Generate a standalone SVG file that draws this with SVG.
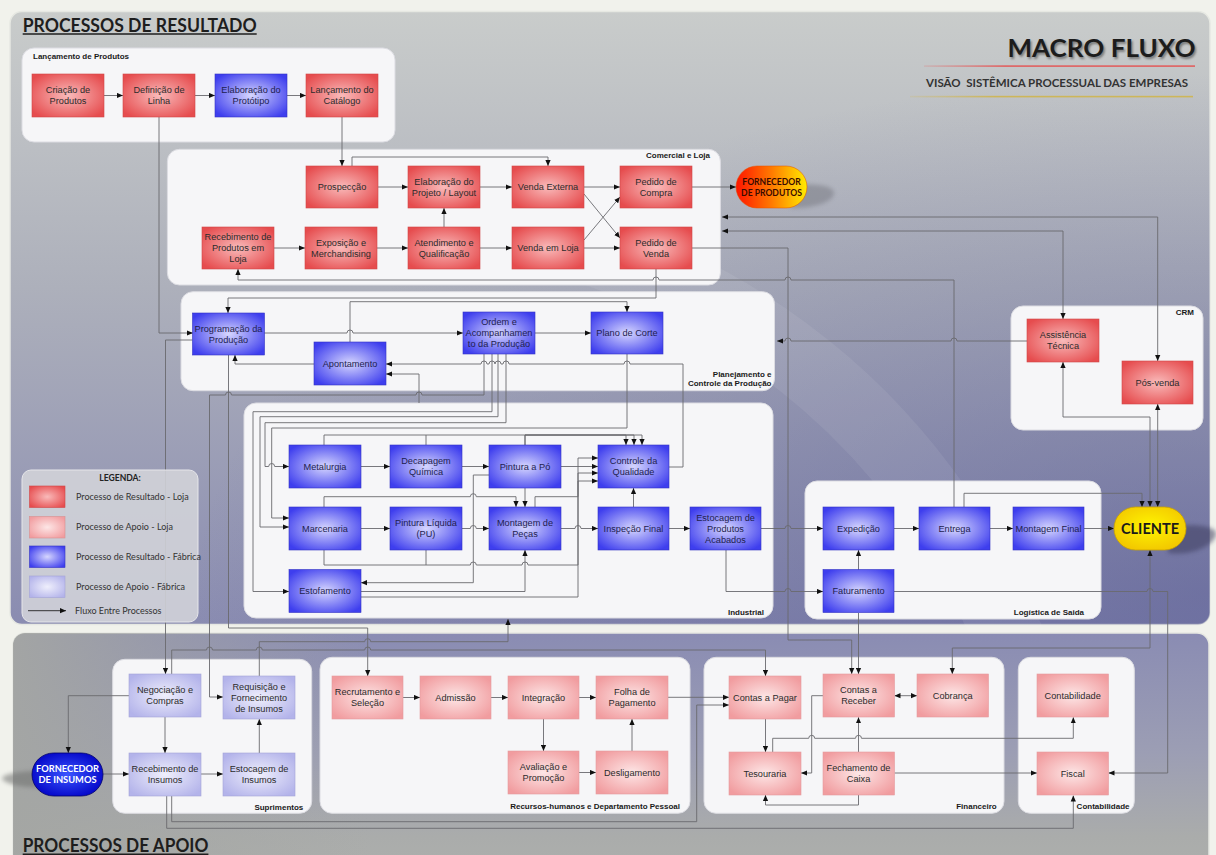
<svg xmlns="http://www.w3.org/2000/svg" width="1216" height="855" viewBox="0 0 1216 855">
<defs>
  <linearGradient id="bgTop" x1="0" y1="0" x2="0" y2="1">
    <stop offset="0" stop-color="#c9cccb"/>
    <stop offset="0.45" stop-color="#adb0bb"/>
    <stop offset="1" stop-color="#8a8cb1"/>
  </linearGradient>
  <radialGradient id="bgTopShade" cx="1" cy="0.95" r="0.85">
    <stop offset="0" stop-color="#4a4d8c" stop-opacity="0.45"/>
    <stop offset="1" stop-color="#4a4d8c" stop-opacity="0"/>
  </radialGradient>
  <linearGradient id="bgBot" x1="0" y1="0" x2="0" y2="1">
    <stop offset="0" stop-color="#8a8cb3"/>
    <stop offset="0.5" stop-color="#9c9eb4"/>
    <stop offset="0.85" stop-color="#aaacab"/>
    <stop offset="1" stop-color="#adafac"/>
  </linearGradient>
  <linearGradient id="bgBotLeft" x1="0" y1="0" x2="1" y2="0">
    <stop offset="0" stop-color="#a4a6a3" stop-opacity="0.95"/>
    <stop offset="0.1" stop-color="#a4a6a3" stop-opacity="0.6"/>
    <stop offset="0.3" stop-color="#a4a6a3" stop-opacity="0"/>
  </linearGradient>
  <radialGradient id="gR" cx="0.5" cy="0.5" r="0.62">
    <stop offset="0" stop-color="#f9baba"/>
    <stop offset="1" stop-color="#e64c4e"/>
  </radialGradient>
  <radialGradient id="gLR" cx="0.5" cy="0.5" r="0.62">
    <stop offset="0" stop-color="#fde6e6"/>
    <stop offset="1" stop-color="#f19c9f"/>
  </radialGradient>
  <radialGradient id="gB" cx="0.5" cy="0.5" r="0.62">
    <stop offset="0" stop-color="#d6d6fe"/>
    <stop offset="1" stop-color="#3e3eee"/>
  </radialGradient>
  <radialGradient id="gLB" cx="0.5" cy="0.5" r="0.62">
    <stop offset="0" stop-color="#efeffc"/>
    <stop offset="1" stop-color="#b3b3ea"/>
  </radialGradient>
  <linearGradient id="gFornProd" x1="0" y1="0" x2="1" y2="0">
    <stop offset="0" stop-color="#ff1500"/>
    <stop offset="0.5" stop-color="#ff7a00"/>
    <stop offset="1" stop-color="#ffec00"/>
  </linearGradient>
  <radialGradient id="gCliente" cx="0.5" cy="0.45" r="0.6">
    <stop offset="0" stop-color="#fff500"/>
    <stop offset="1" stop-color="#f2c600"/>
  </radialGradient>
  <radialGradient id="gFornIns" cx="0.5" cy="0.5" r="0.6">
    <stop offset="0" stop-color="#3a55ff"/>
    <stop offset="1" stop-color="#0000c4"/>
  </radialGradient>
  <linearGradient id="redRule" x1="0" y1="0" x2="1" y2="0">
    <stop offset="0" stop-color="#e06a6a" stop-opacity="0.2"/>
    <stop offset="0.3" stop-color="#e06060"/>
    <stop offset="1" stop-color="#e06060"/>
  </linearGradient>
  <linearGradient id="yelRule" x1="0" y1="0" x2="1" y2="0">
    <stop offset="0" stop-color="#d0b858" stop-opacity="0.2"/>
    <stop offset="0.3" stop-color="#cdb65a"/>
    <stop offset="1" stop-color="#cdb65a"/>
  </linearGradient>
  <filter id="soft" x="-10%" y="-30%" width="120%" height="160%">
    <feGaussianBlur stdDeviation="1"/>
  </filter>
  <filter id="shadowBlur" x="-30%" y="-50%" width="160%" height="200%">
    <feGaussianBlur stdDeviation="2"/>
  </filter>
  <marker id="ah" viewBox="0 0 6 6" refX="6" refY="3" markerWidth="6" markerHeight="6" markerUnits="userSpaceOnUse" orient="auto-start-reverse">
    <path d="M0,0.4 L6,3 L0,5.6 z" fill="#111"/>
  </marker>
  <style>
    .grp { fill:#f6f6f8; stroke:#dcdce2; stroke-width:1; }
    .gl { font-family:"Liberation Sans", Arial, sans-serif; font-size:8px; font-weight:bold; fill:#1a1a1a; text-anchor:end; }
    .nd text { font-family:"Liberation Sans", Arial, sans-serif; font-size:9.2px; text-anchor:middle; fill:#2b2b2b; }
    .r rect { fill:url(#gR); stroke:#cf4848; stroke-width:0.6; }
    .lr rect { fill:url(#gLR); stroke:#e49c9e; stroke-width:0.6; }
    .b rect { fill:url(#gB); stroke:#3434c4; stroke-width:0.6; }
    .b text { fill:#1e1e4e; }
    .lb rect { fill:url(#gLB); stroke:#a4a4d8; stroke-width:0.6; }
    .cn path { fill:none; stroke:#6a6a6e; stroke-width:0.9; }
    .cn .a { marker-end:url(#ah); }
    .cn .d { marker-start:url(#ah); marker-end:url(#ah); }
    .cal { font-family:Lato, "Open Sans", sans-serif; }
    .lg { font-family:Lato, "Open Sans", sans-serif; font-size:9px; fill:#333; }
  </style>
</defs>

<!-- page -->
<rect x="0" y="0" width="1216" height="855" fill="#f1f2ec"/>

<!-- upper panel: result processes -->
<g id="panel-resultado">
  <rect x="10" y="11.5" width="1200" height="613" rx="12" fill="url(#bgTop)" stroke="#e6e8e2" stroke-width="1.5"/>
  <rect x="10" y="11.5" width="1200" height="613" rx="12" fill="url(#bgTopShade)"/>
  <path d="M560,240 C760,300 920,430 1010,640" fill="none" stroke="#ffffff" stroke-opacity="0.07" stroke-width="70"/>
  <text x="22.7" y="31.5" class="cal" font-size="19" font-weight="bold" fill="#1e1e1e" textLength="234" lengthAdjust="spacingAndGlyphs">PROCESSOS DE RESULTADO</text>
  <line x1="22.7" y1="34" x2="256.7" y2="34" stroke="#1e1e1e" stroke-width="1.4"/>
  <text x="1009" y="58.5" class="cal" font-size="24.5" font-weight="bold" fill="#555" opacity="0.7" filter="url(#soft)" textLength="188" lengthAdjust="spacingAndGlyphs">MACRO FLUXO</text>
  <text x="1007.5" y="56.7" class="cal" font-size="24.5" font-weight="bold" fill="#1c1c1c" textLength="188" lengthAdjust="spacingAndGlyphs">MACRO FLUXO</text>
  <rect x="924" y="65.3" width="271" height="1.6" fill="url(#redRule)"/>
  <text x="926" y="87.3" class="cal" font-size="10.5" font-weight="bold" fill="#333" style="white-space:pre" textLength="262" lengthAdjust="spacingAndGlyphs">VISÃO  SISTÊMICA PROCESSUAL DAS EMPRESAS</text>
  <rect x="910" y="95.8" width="283" height="1.6" fill="url(#yelRule)"/>
</g>

<!-- lower panel: support processes -->
<g id="panel-apoio">
  <rect x="13" y="633" width="1196" height="240" rx="12" fill="url(#bgBot)" stroke="#e6e8e2" stroke-width="1.5"/>
  <rect x="13" y="633" width="1196" height="240" rx="12" fill="url(#bgBotLeft)"/>
  <text x="22.7" y="851.7" class="cal" font-size="19" font-weight="bold" fill="#1e1e1e" textLength="185.7" lengthAdjust="spacingAndGlyphs">PROCESSOS DE APOIO</text>
  <line x1="22.7" y1="854.3" x2="208.4" y2="854.3" stroke="#1e1e1e" stroke-width="1.4"/>
</g>

<!-- process areas -->
<g id="areas">
  <rect class="grp" x="22" y="48" width="373" height="94" rx="12"/>
  <text class="gl" x="33" y="58.5" style="text-anchor:start">Lançamento de Produtos</text>
  <rect class="grp" x="167.4" y="149.3" width="553" height="135.7" rx="12"/>
  <text class="gl" x="710" y="157.5">Comercial e Loja</text>
  <rect class="grp" x="181" y="291.7" width="593.5" height="99" rx="12"/>
  <text class="gl" x="771.5" y="376.7">Planejamento e</text>
  <text class="gl" x="771.5" y="386.2">Controle da Produção</text>
  <rect class="grp" x="244" y="403" width="529" height="215" rx="12"/>
  <text class="gl" x="764" y="615">Industrial</text>
  <rect class="grp" x="1011" y="306" width="192" height="124" rx="12"/>
  <text class="gl" x="1194" y="314.5">CRM</text>
  <rect class="grp" x="805" y="481" width="296" height="138" rx="12"/>
  <text class="gl" x="1084" y="615">Logística de Saida</text>
  <rect class="grp" x="112.7" y="659.3" width="199" height="154" rx="12"/>
  <text class="gl" x="303.3" y="810">Suprimentos</text>
  <rect class="grp" x="320" y="657.3" width="370" height="156" rx="12"/>
  <text class="gl" x="680" y="809.3">Recursos-humanos e Departamento Pessoal</text>
  <rect class="grp" x="704" y="657.3" width="300" height="156" rx="12"/>
  <text class="gl" x="996.7" y="809.3">Financeiro</text>
  <rect class="grp" x="1018.3" y="657.3" width="116" height="156" rx="12"/>
  <text class="gl" x="1129.5" y="809.3">Contabilidade</text>
</g>

<!-- connectors -->
<g id="connectors" class="cn">
  <!-- product launch -->
  <path class="a" d="M104,95.5 H123"/>
  <path class="a" d="M195,95.5 H215"/>
  <path class="a" d="M287,95.5 H306"/>
  <path class="a" d="M159,117 V333 H193"/>
  <path class="a" d="M342,117 V166"/>
  <!-- commercial and store -->
  <path class="a" d="M378,187 H408"/>
  <path class="a" d="M480,187 H512"/>
  <path class="a" d="M584,187 H620"/>
  <path class="a" d="M352,166 V157 H548 V166"/>
  <path class="a" d="M444,227 V208"/>
  <path class="a" d="M274,248 H305"/>
  <path class="a" d="M377,248 H408"/>
  <path class="a" d="M480,248 H512"/>
  <path class="a" d="M584,248 H620"/>
  <path class="a" d="M584,194 L620,238"/>
  <path class="a" d="M584,240 L620,197"/>
  <path class="a" d="M692,187 H736"/>
  <path class="a" d="M692,248 H788 V640 H851.7 V674"/>
  <path class="a" d="M954,507 V280 H791 a3,3 0 0 0 -6,0 H659 a3,3 0 0 0 -6,0 H238 V269"/>
  <path class="a" d="M656,269 V298 H228 V313"/>
  <!-- production planning -->
  <path class="a" d="M350,342 V301.7 H627 V312"/>
  <path class="a" d="M264,333 H347 a3,3 0 0 1 6,0 H463"/>
  <path class="a" d="M535,333 H591"/>
  <path class="a" d="M314,364 H235 V355"/>
  <path class="a" d="M669,467 H683 V364 H630 a3,3 0 0 0 -6,0 H509 a3,3 0 0 0 -6,0 H501 a3,3 0 0 0 -6,0 a3,3 0 0 0 -6,0 H487 a3,3 0 0 0 -6,0 H386"/>
  <path class="a" d="M419,403 V374 H386"/>
  <path class="a" d="M484,354 V395 H422 a3,3 0 0 0 -6,0 H231.5 a3,3 0 0 0 -6,0 H209.5 V697 H223"/>
  <path class="a" d="M192.5,340 H165.5 V674"/>
  <path class="a" d="M228.5,355 V628 H367.7 V676"/>
  <!-- industrial -->
  <path class="a" d="M492,354 V411.7 H253 V591.5 H289"/>
  <path class="a" d="M498,354 V416.7 H260 V527 H289"/>
  <path class="a" d="M506,354 V422.7 H265 V466.5 H268.7 a3,3 0 0 1 6,0 H289"/>
  <path class="a" d="M627,354 V428 H271.7 V518 H289"/>
  <path class="a" d="M361,466.5 H390"/>
  <path class="a" d="M462,466.5 H489"/>
  <path class="a" d="M561,466.5 H598"/>
  <path class="a" d="M324,445 V435 H626 V445"/>
  <path d="M426,445 V435"/>
  <path class="a" d="M525,445 V435 H634 V445"/>
  <path class="a" d="M525,445 V435 H642 V445"/>
  <path class="a" d="M525,488 V507"/>
  <path class="a" d="M324,507 V496.7 H470.3 a3,3 0 0 1 6,0 H516 V507"/>
  <path class="a" d="M361,528.5 H390"/>
  <path class="a" d="M462,528.5 H470.3 a3,3 0 0 1 6,0 H489"/>
  <path class="a" d="M489,475 H473.3 V582.7 H361"/>
  <path class="a" d="M324,550 V565 H470.3 a3,3 0 0 1 6,0 H522 a3,3 0 0 1 6,0 H578 V473 H598"/>
  <path d="M426,550 V565"/>
  <path class="a" d="M361,591.5 H525 V550"/>
  <path class="a" d="M361,597 H578 V481 H598"/>
  <path class="a" d="M535,507 V496.7 H578 V458 H598"/>
  <path class="a" d="M561,528.5 H575 a3,3 0 0 1 6,0 H598"/>
  <path class="a" d="M633.5,507 V488"/>
  <path class="a" d="M669,528.5 H690"/>
  <path class="a" d="M761,528.5 H785 a3,3 0 0 1 6,0 H823"/>
  <path class="a" d="M726,550 V591.5 H785 a3,3 0 0 1 6,0 H823"/>
  <!-- outbound logistics and CRM -->
  <path class="a" d="M894,528.5 H919"/>
  <path class="a" d="M990,528.5 H1013"/>
  <path class="a" d="M1084,528.5 H1114"/>
  <path class="a" d="M858.5,570 V550"/>
  <path class="a" d="M964,507 V493.3 H1142 V507"/>
  <path class="d" d="M1063,362 V417 H1150 V507"/>
  <path class="d" d="M1157.7,404 V507"/>
  <path class="a" d="M894,591.5 H1147 a3,3 0 0 1 6,0 H1167.7 V773 H1108.5"/>
  <path class="d" d="M952.3,674 V648 H1150 V550"/>
  <path class="a" d="M1027,341 H957 a3,3 0 0 0 -6,0 H791 a3,3 0 0 0 -6,0 H777"/>
  <path class="d" d="M722,217 H1157.7 V361"/>
  <path class="d" d="M722,231 H1063 V319"/>
  <!-- finance and accounting -->
  <path class="a" d="M858.5,613 V674"/>
  <path class="d" d="M894.5,695.7 H917"/>
  <path class="a" d="M765.5,719 V752"/>
  <path class="a" d="M823,695.7 H811.7 V773 H801"/>
  <path class="a" d="M772.7,752 V738.3 H808.7 a3,3 0 0 1 6,0 H855.5 a3,3 0 0 1 6,0 H1073.3 V717.3"/>
  <path class="a" d="M858.5,752 V717.3"/>
  <path class="a" d="M858.5,795 V805 H765.5 V795"/>
  <path class="a" d="M894.5,773 H1037"/>
  <path class="a" d="M166.7,796 V828.3 H1073.3 V795.5"/>
  <path class="a" d="M171.7,796 V821.7 H696.7 V705 H729"/>
  <path class="a" d="M667.7,697.3 H729"/>
  <!-- supplies -->
  <path class="a" d="M171.7,674 V650 H206.5 a3,3 0 0 1 6,0 H256.3 a3,3 0 0 1 6,0 H364.7 a3,3 0 0 1 6,0 H765.5 V676"/>
  <path class="a" d="M129,695.7 H68.3 V753"/>
  <path class="a" d="M165,717 V753"/>
  <path class="a" d="M103,774 H129"/>
  <path class="a" d="M201,774 H223"/>
  <path class="a" d="M259.3,753 V719"/>
  <path class="a" d="M259.3,676 V641.7 H364.7 a3,3 0 0 1 6,0 H508 V619"/>
  <!-- human resources -->
  <path class="a" d="M403,697.5 H420"/>
  <path class="a" d="M491,697.5 H508"/>
  <path class="a" d="M579,697.5 H596"/>
  <path class="a" d="M543.5,719 V751"/>
  <path class="a" d="M579,772.5 H596"/>
  <path class="a" d="M632,751 V719"/>
</g>

<!-- shadows under terminal shapes -->
<g id="shadows">
  <path d="M790,186 C815,182 836,186 834,194 C832,203 810,209 790,208 Z" fill="#6e7078" opacity="0.45" filter="url(#shadowBlur)"/>
  <path d="M1170,527 C1195,523 1218,526 1216,535 C1213,546 1192,556 1168,553 Z" fill="#3c3e5e" opacity="0.55" filter="url(#shadowBlur)"/>
  <path d="M50,771 C30,770 4,773 2,778 C2,784 28,789 50,787 Z" fill="#6e706e" opacity="0.55" filter="url(#shadowBlur)"/>
</g>

<!-- nodes: Lançamento de Produtos -->
<g id="n-criacao" class="nd r"><rect x="32" y="74" width="72" height="43"/><text><tspan x="68" y="93.3">Criação de</tspan><tspan x="68" y="104.3">Produtos</tspan></text></g>
<g id="n-definicao" class="nd r"><rect x="123" y="74" width="72" height="43"/><text><tspan x="159" y="93.3">Definição de</tspan><tspan x="159" y="104.3">Linha</tspan></text></g>
<g id="n-prototipo" class="nd b"><rect x="215" y="74" width="72" height="43"/><text><tspan x="251" y="93.3">Elaboração do</tspan><tspan x="251" y="104.3">Protótipo</tspan></text></g>
<g id="n-catalogo" class="nd r"><rect x="306" y="74" width="72" height="43"/><text><tspan x="342" y="93.3">Lançamento do</tspan><tspan x="342" y="104.3">Catálogo</tspan></text></g>

<!-- nodes: Comercial e Loja -->
<g id="n-prospeccao" class="nd r"><rect x="306" y="166" width="72" height="42"/><text x="342" y="190.3">Prospecção</text></g>
<g id="n-projeto" class="nd r"><rect x="408" y="166" width="72" height="42"/><text><tspan x="444" y="184.8">Elaboração do</tspan><tspan x="444" y="195.8">Projeto / Layout</tspan></text></g>
<g id="n-venda-externa" class="nd r"><rect x="512" y="166" width="72" height="42"/><text x="548" y="190.3">Venda Externa</text></g>
<g id="n-pedido-compra" class="nd r"><rect x="620" y="166" width="72" height="42"/><text><tspan x="656" y="184.8">Pedido de</tspan><tspan x="656" y="195.8">Compra</tspan></text></g>
<g id="n-receb-loja" class="nd r"><rect x="202" y="227" width="72" height="42"/><text><tspan x="238" y="240.3">Recebimento de</tspan><tspan x="238" y="251.3">Produtos em</tspan><tspan x="238" y="262.3">Loja</tspan></text></g>
<g id="n-exposicao" class="nd r"><rect x="305" y="227" width="72" height="42"/><text><tspan x="341" y="245.8">Exposição e</tspan><tspan x="341" y="256.8">Merchandising</tspan></text></g>
<g id="n-atendimento" class="nd r"><rect x="408" y="227" width="72" height="42"/><text><tspan x="444" y="245.8">Atendimento e</tspan><tspan x="444" y="256.8">Qualificação</tspan></text></g>
<g id="n-venda-loja" class="nd r"><rect x="512" y="227" width="72" height="42"/><text x="548" y="251.3">Venda em Loja</text></g>
<g id="n-pedido-venda" class="nd r"><rect x="620" y="227" width="72" height="42"/><text><tspan x="656" y="245.8">Pedido de</tspan><tspan x="656" y="256.8">Venda</tspan></text></g>
<g id="n-fornecedor-produtos">
  <rect x="736" y="166" width="71" height="42" rx="21" fill="url(#gFornProd)" stroke="#e05000" stroke-width="0.5"/>
  <text class="cal" font-size="8.6" font-weight="bold" fill="#3a0a00" text-anchor="middle"><tspan x="771.5" y="184.5">FORNECEDOR</tspan><tspan x="771.5" y="195.7">DE PRODUTOS</tspan></text>
</g>

<!-- nodes: Planejamento e Controle da Produção -->
<g id="n-programacao" class="nd b"><rect x="192.5" y="313" width="72" height="42"/><text><tspan x="228.5" y="331.8">Programação da</tspan><tspan x="228.5" y="342.8">Produção</tspan></text></g>
<g id="n-apontamento" class="nd b"><rect x="314" y="342" width="72" height="43"/><text x="350" y="366.8">Apontamento</text></g>
<g id="n-ordem" class="nd b"><rect x="463" y="312" width="72" height="42"/><text><tspan x="499" y="325.3">Ordem e</tspan><tspan x="499" y="336.3">Acompanhamen</tspan><tspan x="499" y="347.3">to da Produção</tspan></text></g>
<g id="n-plano-corte" class="nd b"><rect x="591" y="312" width="72" height="42"/><text x="627" y="336.3">Plano de Corte</text></g>

<!-- nodes: Industrial -->
<g id="n-metalurgia" class="nd b"><rect x="289" y="445" width="72" height="43"/><text x="325" y="469.8">Metalurgia</text></g>
<g id="n-decapagem" class="nd b"><rect x="390" y="445" width="72" height="43"/><text><tspan x="426" y="464.3">Decapagem</tspan><tspan x="426" y="475.3">Química</tspan></text></g>
<g id="n-pintura-po" class="nd b"><rect x="489" y="445" width="72" height="43"/><text x="525" y="469.8">Pintura a Pó</text></g>
<g id="n-controle" class="nd b"><rect x="598" y="445" width="71" height="43"/><text><tspan x="633.5" y="464.3">Controle da</tspan><tspan x="633.5" y="475.3">Qualidade</tspan></text></g>
<g id="n-marcenaria" class="nd b"><rect x="289" y="507" width="72" height="43"/><text x="325" y="531.8">Marcenaria</text></g>
<g id="n-pintura-liquida" class="nd b"><rect x="390" y="507" width="72" height="43"/><text><tspan x="426" y="526.3">Pintura Líquida</tspan><tspan x="426" y="537.3">(PU)</tspan></text></g>
<g id="n-montagem-pecas" class="nd b"><rect x="489" y="507" width="72" height="43"/><text><tspan x="525" y="526.3">Montagem de</tspan><tspan x="525" y="537.3">Peças</tspan></text></g>
<g id="n-inspecao" class="nd b"><rect x="598" y="507" width="71" height="43"/><text x="633.5" y="531.8">Inspeção Final</text></g>
<g id="n-estoque-acabados" class="nd b"><rect x="690" y="507" width="71" height="43"/><text><tspan x="725.5" y="520.8">Estocagem de</tspan><tspan x="725.5" y="531.8">Produtos</tspan><tspan x="725.5" y="542.8">Acabados</tspan></text></g>
<g id="n-estofamento" class="nd b"><rect x="289" y="569.5" width="72" height="43"/><text x="325" y="594.3">Estofamento</text></g>

<!-- nodes: Logística de Saída -->
<g id="n-expedicao" class="nd b"><rect x="823" y="507" width="71" height="43"/><text x="858.5" y="531.8">Expedição</text></g>
<g id="n-entrega" class="nd b"><rect x="919" y="507" width="71" height="43"/><text x="954.5" y="531.8">Entrega</text></g>
<g id="n-montagem-final" class="nd b"><rect x="1013" y="507" width="71" height="43"/><text x="1048.5" y="531.8">Montagem Final</text></g>
<g id="n-faturamento" class="nd b"><rect x="823" y="569.5" width="71" height="43"/><text x="858.5" y="594.3">Faturamento</text></g>
<g id="n-cliente">
  <rect x="1114" y="507" width="72" height="43" rx="21.5" fill="url(#gCliente)" stroke="#c9a200" stroke-width="0.8"/>
  <text x="1150" y="533.5" class="cal" font-size="14.5" font-weight="bold" fill="#1a1a1a" text-anchor="middle">CLIENTE</text>
</g>

<!-- nodes: CRM -->
<g id="n-assistencia" class="nd r"><rect x="1027" y="319" width="72" height="43"/><text><tspan x="1063" y="338.3">Assistência</tspan><tspan x="1063" y="349.3">Técnica</tspan></text></g>
<g id="n-pos-venda" class="nd r"><rect x="1122" y="361" width="71" height="43"/><text x="1157.5" y="385.8">Pós-venda</text></g>

<!-- nodes: Suprimentos -->
<g id="n-negociacao" class="nd lb"><rect x="129" y="674" width="72" height="43"/><text><tspan x="165" y="693.3">Negociação e</tspan><tspan x="165" y="704.3">Compras</tspan></text></g>
<g id="n-requisicao" class="nd lb"><rect x="223" y="676" width="72" height="43"/><text><tspan x="259" y="689.8">Requisição e</tspan><tspan x="259" y="700.8">Fornecimento</tspan><tspan x="259" y="711.8">de Insumos</tspan></text></g>
<g id="n-receb-insumos" class="nd lb"><rect x="129" y="753" width="72" height="43"/><text><tspan x="165" y="772.3">Recebimento de</tspan><tspan x="165" y="783.3">Insumos</tspan></text></g>
<g id="n-estoque-insumos" class="nd lb"><rect x="223" y="753" width="72" height="43"/><text><tspan x="259" y="772.3">Estocagem de</tspan><tspan x="259" y="783.3">Insumos</tspan></text></g>
<g id="n-fornecedor-insumos">
  <rect x="32" y="753" width="71" height="43" rx="21.5" fill="url(#gFornIns)" stroke="#00006a" stroke-width="0.8"/>
  <text class="cal" font-size="9.3" font-weight="bold" fill="#ffffff" text-anchor="middle"><tspan x="67.5" y="771.7">FORNECEDOR</tspan><tspan x="67.5" y="782.7">DE INSUMOS</tspan></text>
</g>

<!-- nodes: Recursos-humanos e Departamento Pessoal -->
<g id="n-recrutamento" class="nd lr"><rect x="332" y="676" width="71" height="43"/><text><tspan x="367.5" y="695.3">Recrutamento e</tspan><tspan x="367.5" y="706.3">Seleção</tspan></text></g>
<g id="n-admissao" class="nd lr"><rect x="420" y="676" width="71" height="43"/><text x="455.5" y="700.8">Admissão</text></g>
<g id="n-integracao" class="nd lr"><rect x="508" y="676" width="71" height="43"/><text x="543.5" y="700.8">Integração</text></g>
<g id="n-folha" class="nd lr"><rect x="596" y="676" width="72" height="43"/><text><tspan x="632" y="695.3">Folha de</tspan><tspan x="632" y="706.3">Pagamento</tspan></text></g>
<g id="n-avaliacao" class="nd lr"><rect x="508" y="751" width="71" height="43"/><text><tspan x="543.5" y="770.3">Avaliação e</tspan><tspan x="543.5" y="781.3">Promoção</tspan></text></g>
<g id="n-desligamento" class="nd lr"><rect x="596" y="751" width="72" height="43"/><text x="632" y="775.8">Desligamento</text></g>

<!-- nodes: Financeiro -->
<g id="n-contas-pagar" class="nd lr"><rect x="729" y="676" width="72" height="43"/><text x="765" y="700.8">Contas a Pagar</text></g>
<g id="n-contas-receber" class="nd lr"><rect x="823" y="674" width="71.5" height="43"/><text><tspan x="858.5" y="693.3">Contas a</tspan><tspan x="858.5" y="704.3">Receber</tspan></text></g>
<g id="n-cobranca" class="nd lr"><rect x="917" y="674" width="71.5" height="43"/><text x="952.7" y="698.8">Cobrança</text></g>
<g id="n-tesouraria" class="nd lr"><rect x="729" y="752" width="72" height="43"/><text x="765" y="776.8">Tesouraria</text></g>
<g id="n-fechamento" class="nd lr"><rect x="823" y="752" width="71.5" height="43"/><text><tspan x="858.5" y="771.3">Fechamento de</tspan><tspan x="858.5" y="782.3">Caixa</tspan></text></g>

<!-- nodes: Contabilidade -->
<g id="n-contabilidade" class="nd lr"><rect x="1037" y="674" width="71.5" height="43"/><text x="1072.7" y="698.8">Contabilidade</text></g>
<g id="n-fiscal" class="nd lr"><rect x="1037" y="752" width="71.5" height="43"/><text x="1072.7" y="776.8">Fiscal</text></g>

<!-- legend -->
<g id="legenda">
  <rect x="22" y="470" width="176" height="152" rx="9" fill="#d3d4d9" fill-opacity="0.88" stroke="#e6e6ea" stroke-width="1"/>
  <text x="120" y="480.7" class="cal" font-size="8.6" font-weight="bold" fill="#222" text-anchor="middle">LEGENDA:</text>
  <rect x="29.5" y="486" width="35.5" height="21.5" fill="url(#gR)" stroke="#cf4848" stroke-width="0.6"/>
  <rect x="29.5" y="516.5" width="35.5" height="21.5" fill="url(#gLR)" stroke="#d89090" stroke-width="0.6"/>
  <rect x="29.5" y="546" width="35.5" height="21.5" fill="url(#gB)" stroke="#3434c4" stroke-width="0.6"/>
  <rect x="29.5" y="576" width="35.5" height="21.5" fill="url(#gLB)" stroke="#a4a4d8" stroke-width="0.6"/>
  <text class="lg" x="76" y="499.5">Processo de Resultado - Loja</text>
  <text class="lg" x="76" y="530">Processo de Apoio - Loja</text>
  <text class="lg" x="76" y="559.5">Processo de Resultado - Fábrica</text>
  <text class="lg" x="76" y="589.5">Processo de Apoio - Fábrica</text>
  <path d="M28,610.7 H66" fill="none" stroke="#222" stroke-width="0.9" marker-end="url(#ah)"/>
  <text class="lg" x="75" y="613.5" font-size="8.2">Fluxo Entre Processos</text>
</g>
</svg>
